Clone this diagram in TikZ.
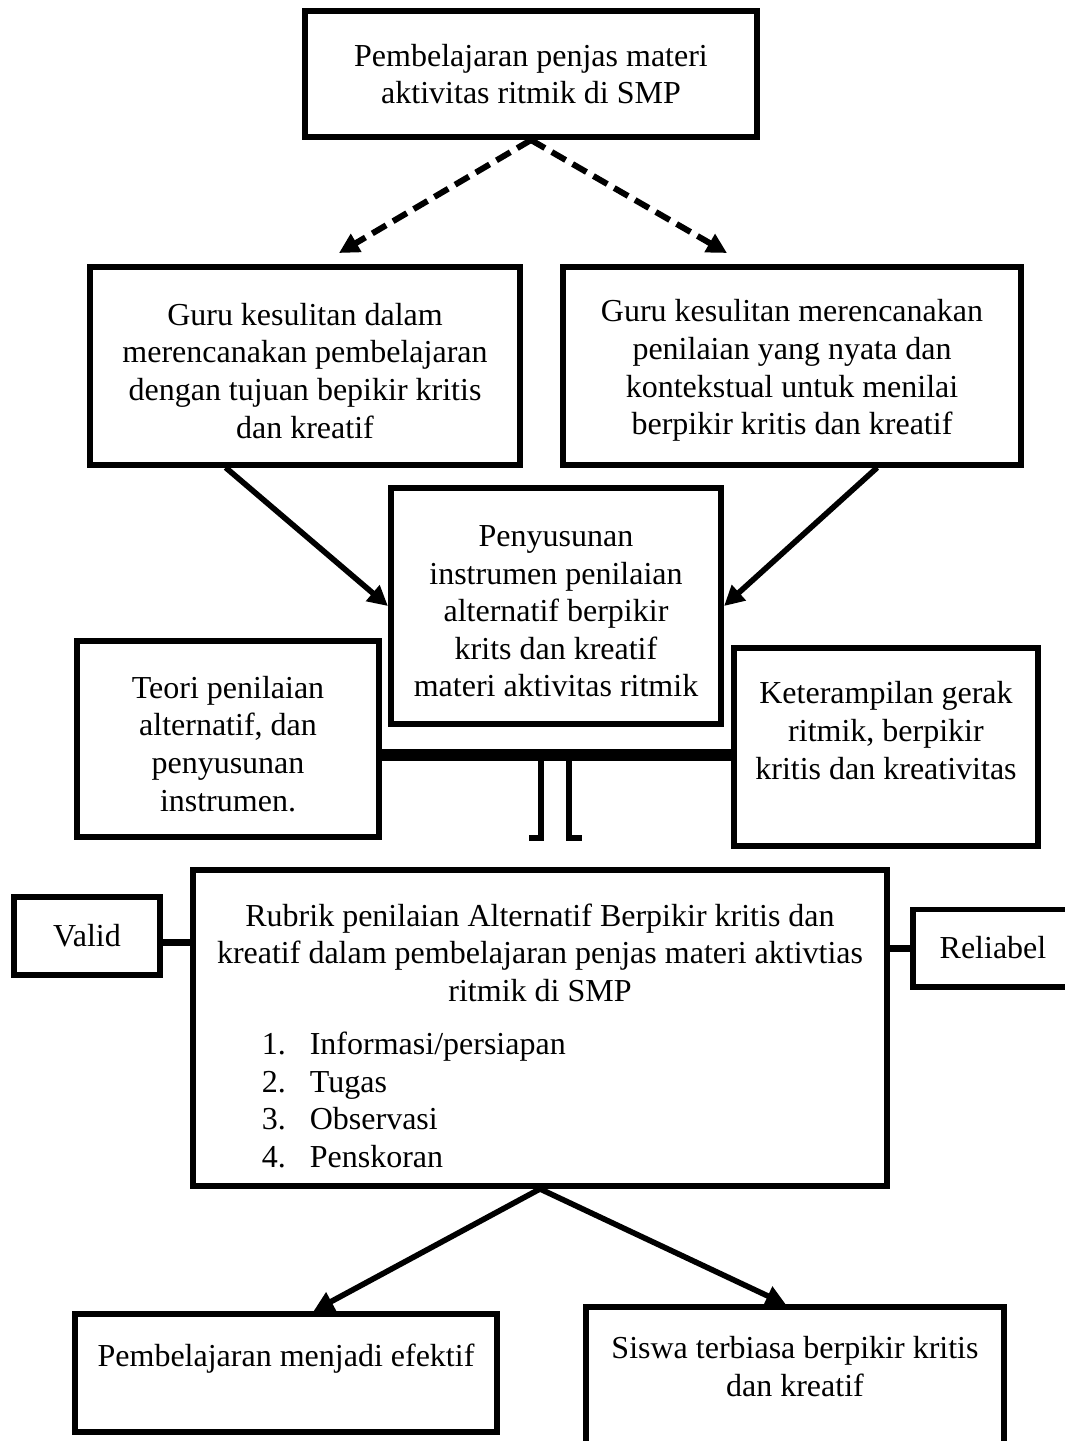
\documentclass[tikz,border=0pt]{standalone}
\usepackage{fontspec}
\setmainfont{Liberation Serif}
\usetikzlibrary{arrows.meta}

\begin{document}
\begin{tikzpicture}[x=0.01cm,y=-0.01cm,
    font=\fontsize{9.1}{10.7}\selectfont,
    box/.style={draw,line width=1.7pt,align=center,inner sep=2pt},
    dasharrow/.style={line width=1.7pt,dash pattern=on 0.16cm off 0.08cm,-{Triangle[length=0.2cm,width=0.2cm]}},
    arrow/.style={line width=1.6pt,-{Triangle[length=0.2cm,width=0.2cm]}},
    link/.style={line width=2pt},
    bar/.style={line width=3.4pt},
    leg/.style={line width=1.7pt}]
  \useasboundingbox (0,0) rectangle (1065,1441);
  \node[box,minimum width=4.51cm,minimum height=1.26cm] (top) at (531,74) {Pembelajaran penjas materi\\aktivitas ritmik di SMP};
  \node[box,minimum width=4.30cm,minimum height=1.97cm] (lbox) at (305,366) {\rule{0pt}{9pt}Guru kesulitan dalam\\merencanakan pembelajaran\\dengan tujuan bepikir kritis\\dan kreatif};
  \node[box,minimum width=4.58cm,minimum height=1.97cm] (rbox) at (792,366) {\rule{0pt}{9pt}Guru kesulitan merencanakan\\penilaian yang nyata dan\\kontekstual untuk menilai\\berpikir kritis dan kreatif};
  \node[box,minimum width=3.30cm,minimum height=2.36cm] (cbox) at (556,606) {\rule{0pt}{9pt}Penyusunan\\instrumen penilaian\\alternatif berpikir\\krits dan kreatif\\materi aktivitas ritmik};
  \node[box,minimum width=3.01cm,minimum height=1.96cm] (tbox) at (228,739) {\rule{0pt}{9pt}Teori penilaian\\alternatif, dan\\penyusunan\\instrumen.};
  \node[box,minimum width=3.03cm,minimum height=1.97cm] (kbox) at (886,747) {Keterampilan gerak\\ritmik, berpikir\\kritis dan kreativitas\\[-4.5pt] \strut};
  \node[box,minimum width=6.94cm,minimum height=3.14cm] (rubrik) at (540,1028) {\rule{0pt}{14pt}Rubrik penilaian Alternatif Berpikir kritis dan\\kreatif dalam pembelajaran penjas materi aktivtias\\ritmik di SMP\\[4.4pt]
    \makebox[6.5cm][l]{\hspace{0.47cm}\begin{tabular}[t]{@{}p{0.48cm}@{}l@{}}
      1. & Informasi/persiapan\\
      2. & Tugas\\
      3. & Observasi\\
      4. & Penskoran
    \end{tabular}}};
  \node[box,minimum width=1.45cm,minimum height=0.78cm] (valid) at (87,936) {Valid};
  \node[box,minimum width=1.60cm,minimum height=0.77cm] (reliabel) at (993,948) {Reliabel};
  \node[box,minimum width=4.21cm,minimum height=1.18cm] (eff) at (286,1373) {Pembelajaran menjadi efektif\\[-4pt] \strut};
  \node[box,minimum width=4.17cm,minimum height=1.67cm] (sis) at (795,1391) {Siswa terbiasa berpikir kritis\\dan kreatif\\ \strut};

  \coordinate (dl) at (339,253);
  \coordinate (dr) at (727,253);
  \draw[dasharrow] (top.south) -- (dl);
  \draw[dasharrow] (top.south) -- (dr);
  \draw[arrow] (lbox.232) -- (cbox.west);
  \draw[arrow] (rbox.310) -- (cbox.east);
  \draw[bar] (kbox.183) -- (kbox.183 -| tbox.east);
  \draw[leg] (541,756) -- (541,838) -- (529,838);
  \draw[leg] (569,756) -- (569,838) -- (582,838);
  \draw[link] (valid.-5) -- (valid.-5 -| rubrik.west);
  \draw[link] (reliabel.west) -- (reliabel.west -| rubrik.east);
  \draw[arrow] (rubrik.south) -- (eff.66);
  \draw[arrow] (rubrik.south) -- (sis.96);
\end{tikzpicture}
\end{document}
